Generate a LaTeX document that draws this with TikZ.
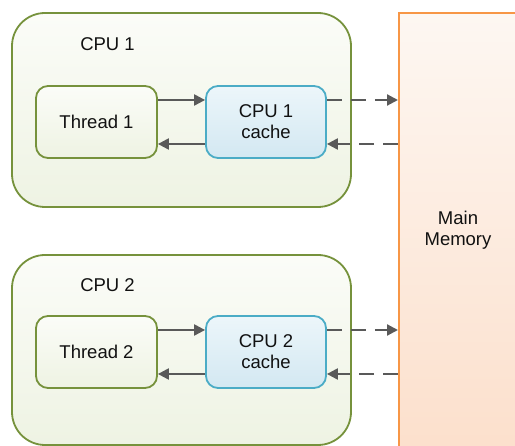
\documentclass[tikz,border=0pt]{standalone}
\usepackage{fontspec}
\setmainfont{Liberation Sans}
\usetikzlibrary{arrows.meta}
\definecolor{olive}{HTML}{76923C}
\definecolor{cpuTop}{HTML}{FBFCF8}
\definecolor{cpuBot}{HTML}{EEF3E3}
\definecolor{cacheLine}{HTML}{4BACC6}
\definecolor{cacheTop}{HTML}{ECF6FA}
\definecolor{cacheBot}{HTML}{D3E8F2}
\definecolor{memLine}{HTML}{F79646}
\definecolor{memTop}{HTML}{FDF7F2}
\definecolor{memBot}{HTML}{FCDFCB}
\definecolor{arrowGray}{HTML}{595959}
\definecolor{txt}{HTML}{111111}
\begin{document}
\begin{tikzpicture}[x=1pt,y=-1pt,
  every node/.style={font=\fontsize{18.5}{21}\selectfont, text=txt, align=center, inner sep=0pt},
  cpubox/.style={draw=olive, line width=1.8pt, rounded corners=33pt, top color=cpuTop, bottom color=cpuBot, minimum width=339pt},
  threadbox/.style={draw=olive, line width=1.8pt, rounded corners=12pt, top color=cpuTop, bottom color=cpuBot, minimum width=121pt, minimum height=72pt},
  cachebox/.style={draw=cacheLine, line width=1.8pt, rounded corners=12pt, top color=cacheTop, bottom color=cacheBot, minimum width=120pt, minimum height=72pt},
  membox/.style={draw=memLine, line width=2pt, top color=memTop, bottom color=memBot, minimum width=120pt, minimum height=450pt},
  solidarrow/.style={draw=arrowGray, line width=2.2pt, -{Triangle[length=11pt,width=11pt]}},
  dasharrow/.style={solidarrow, dash pattern=on 15pt off 9pt}
]
\useasboundingbox (0,0) rectangle (515,446);
\clip (0,0) rectangle (515,446);
\node[membox] (mm) at (459,238) {};
\node (mmlabel) at (458,230) {Main\\Memory};

\node[cpubox, minimum height=194pt] (cpu1) at (181.5,110) {};
\node (cpu1label) at (107.5,44) {CPU 1};
\node[threadbox] (t1) at (96.5,122) {Thread 1};
\node[cachebox] (c1) at (266,122) {CPU 1\\cache};

\node[cpubox, minimum height=190pt] (cpu2) at (181.5,350) {};
\node (cpu2label) at (107.5,285) {CPU 2};
\node[threadbox] (t2) at (96.5,352) {Thread 2};
\node[cachebox] (c2) at (266,352) {CPU 2\\cache};

\foreach \i in {1,2}{
  \coordinate (c\i a) at ([yshift=22pt]c\i.east);
  \coordinate (c\i b) at ([yshift=-22pt]c\i.east);
  \draw[solidarrow] ([yshift=22pt]t\i.east) -- ([yshift=22pt]c\i.west);
  \draw[solidarrow] ([yshift=-22pt]c\i.west) -- ([yshift=-22pt]t\i.east);
  \draw[dasharrow] (c\i a) -- (c\i a -| mm.west);
  \draw[dasharrow] (c\i b -| mm.west) -- (c\i b);
}
\end{tikzpicture}
\end{document}
